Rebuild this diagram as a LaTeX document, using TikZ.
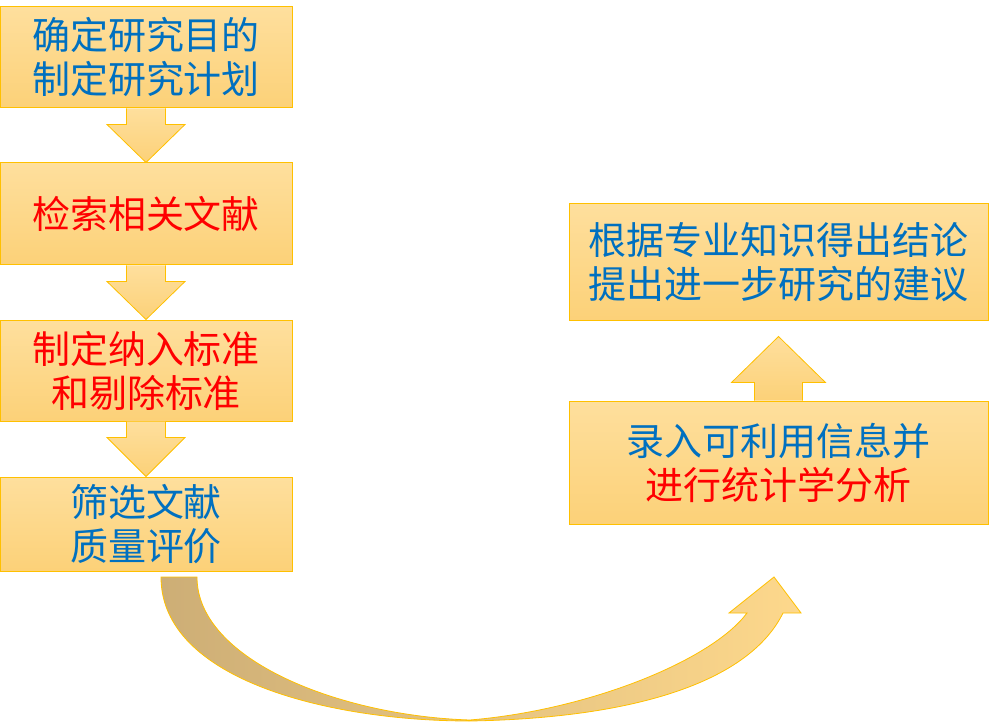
\documentclass[tikz,border=0pt]{standalone}
\usepackage{fontspec}
\newfontfamily\cjk{Noto Sans CJK SC}
\usetikzlibrary{calc}

\definecolor{boxtop}{RGB}{254,223,157}
\definecolor{boxbot}{RGB}{252,209,120}
\definecolor{boxline}{RGB}{255,192,0}
\definecolor{txtblue}{RGB}{0,112,192}
\definecolor{txtred}{RGB}{255,0,0}
\definecolor{curvetan}{RGB}{205,174,118}
\definecolor{curveorange}{RGB}{253,216,140}

\tikzset{
  box/.style={draw=boxline, line width=1pt, top color=boxtop, bottom color=boxbot,
    align=center, inner sep=0pt, font=\cjk\fontsize{38}{44}\selectfont},
  blockarrow/.style={draw=boxline, line width=0.8pt, top color=boxtop, bottom color=boxbot},
}

\begin{document}
\begin{tikzpicture}[x=1pt,y=-1pt]
\useasboundingbox (0,0) rectangle (991,722);

% left column
\node[box, text=txtblue, minimum width=292pt, minimum height=101pt] (b1) at (146,57.5) {确定研究目的\\制定研究计划};
\node[box, text=txtred, minimum width=292pt, minimum height=102pt] (b2) at (146,214) {检索相关文献};
\node[box, text=txtred, minimum width=292pt, minimum height=101pt] (b3) at (146,370.5) {制定纳入标准\\和剔除标准};
\node[box, text=txtblue, minimum width=292pt, minimum height=94pt] (b4) at (146,524) {筛选文献\\质量评价};

% right column
\node[box, text=txtblue, minimum width=419pt, minimum height=116pt] (b5) at (778.5,262) {根据专业知识得出结论\\提出进一步研究的建议};
\node[box, text=txtblue, minimum width=419pt, minimum height=123pt] (b6) at (778.5,462.5) {录入可利用信息并\\\textcolor{txtred}{进行统计学分析}};

% down arrows
\foreach \a/\b in {b1/b2,b2/b3,b3/b4}
  \draw[blockarrow] ($(\a.south)+(-19.5,0)$) -- ($(\a.south)+(-19.5,16)$) -- ($(\a.south)+(-39,16)$)
    -- (\b.north) -- ($(\a.south)+(39,16)$) -- ($(\a.south)+(19.5,16)$) -- ($(\a.south)+(19.5,0)$);

% up arrow
\draw[blockarrow] ($(b6.north)+(-24,0)$) -- ($(b6.north)+(-24,-18)$) -- ($(b6.north)+(-47,-18)$)
  -- ($(b5.south)+(0,16)$) -- ($(b6.north)+(47,-18)$) -- ($(b6.north)+(24,-18)$) -- ($(b6.north)+(24,0)$);

% curved arrow from b4 to b6
\draw[draw=boxline, line width=0.8pt, left color=curvetan, right color=curveorange]
  (161,577) .. controls (161,680) and (330,721) .. (470,721)
  .. controls (640,718) and (750,680) .. (783,613)
  -- (801,613) -- (774,577) -- (729,613) -- (747,613)
  .. controls (712,660) and (590,710) .. (470,720)
  .. controls (340,716) and (197,660) .. (197,577) -- cycle;
\end{tikzpicture}
\end{document}
